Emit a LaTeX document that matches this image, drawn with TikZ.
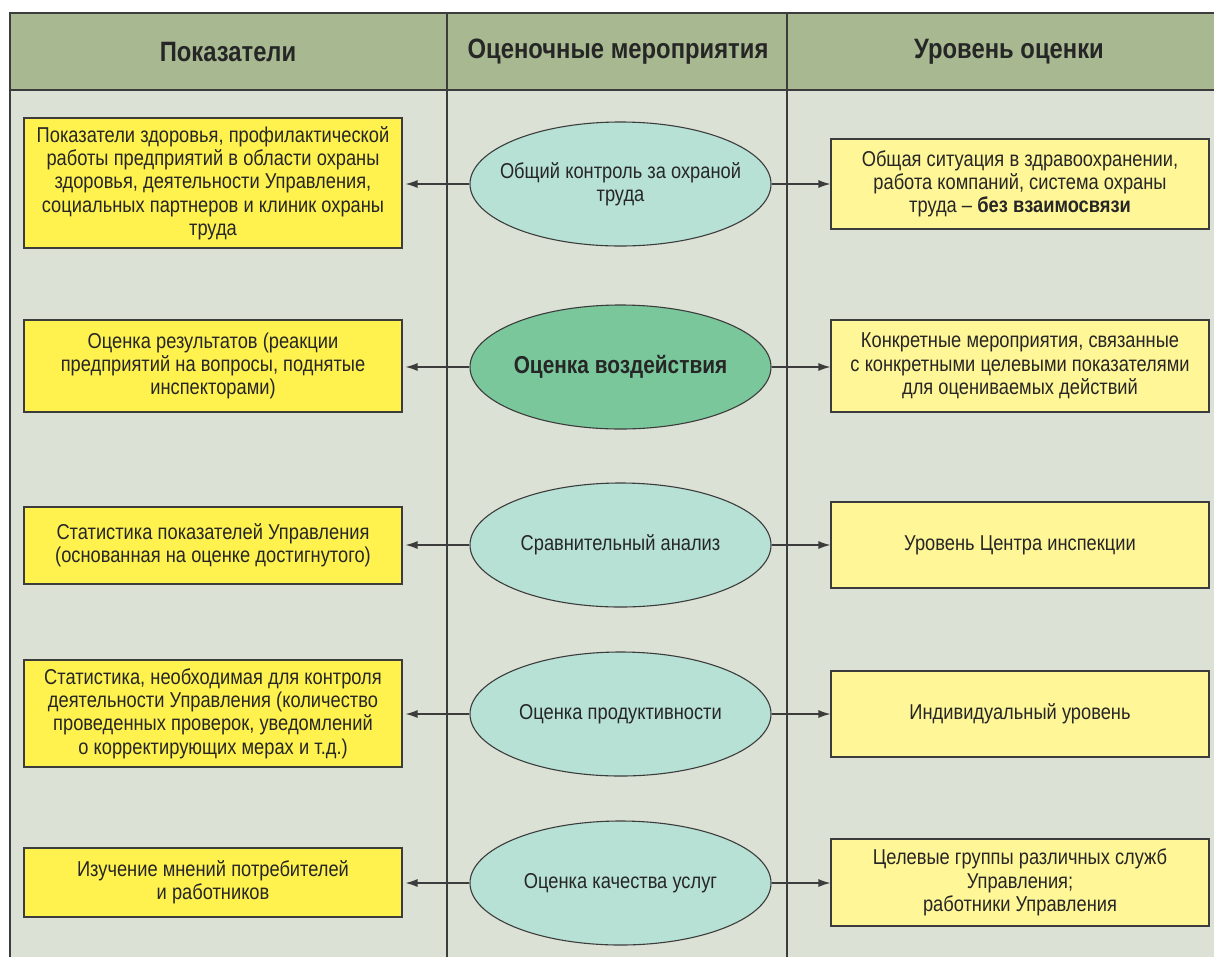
\documentclass[tikz,border=0pt]{standalone}
\usepackage{fontspec}
\setmainfont[FakeStretch=0.85]{Liberation Sans}
\usetikzlibrary{shapes.geometric,arrows.meta}
\definecolor{headgreen}{HTML}{A8B991}
\definecolor{paneback}{HTML}{DCE1D5}
\definecolor{leftyellow}{HTML}{FFF24E}
\definecolor{rightyellow}{HTML}{FFF697}
\definecolor{lightmint}{HTML}{B6E1D4}
\definecolor{darkmint}{HTML}{7AC79C}
\definecolor{edgegray}{HTML}{3C3C3C}
\tikzset{
	txt/.style={font=\fontsize{21.5}{23.3}\selectfont, text=black!85, execute at begin node={\spaceskip=0.24em\relax}},
	leftbox/.style={txt, draw=edgegray, fill=leftyellow, line width=1.1pt, minimum width=378pt, text width=374pt, align=center, inner sep=0pt},
	rightbox/.style={leftbox, fill=rightyellow},
	event/.style={txt, ellipse, draw=edgegray, fill=lightmint, line width=1.1pt, minimum width=301pt, minimum height=124pt, inner ysep=0pt, inner xsep=-25pt, align=center},
	headtxt/.style={font=\fontsize{28}{32}\selectfont\bfseries, text=black!85, execute at begin node={\spaceskip=0.24em\relax}},
	link/.style={-{Latex[length=12pt,width=8pt]}, line width=1.2pt, draw=edgegray}
}
\begin{document}
\begin{tikzpicture}[x=1pt,y=-1pt]
		\useasboundingbox (0,0) rectangle (1214,956);
		\fill[white] (0,0) rectangle (1214,956);
		\fill[paneback] (10,13) rectangle (1240,970);
		\fill[headgreen] (10,13) rectangle (1240,90);
		\draw[edgegray,line width=1.4pt] (10,970) -- (10,13) -- (1240,13);
		\draw[edgegray,line width=1.4pt] (10,90) -- (1240,90);
		\draw[edgegray,line width=1.4pt] (447,13) -- (447,970);
		\draw[edgegray,line width=1.4pt] (787,13) -- (787,970);
		\node[headtxt] (h1) at (228,52) {Показатели};
		\node[headtxt] (h2) at (618,52) {Оценочные мероприятия};
		\node[headtxt] (h3) at (1009,52) {Уровень оценки};

		\node[event] (e1) at (620.5,184) {Общий контроль за охраной\\труда};
		\node[event,fill=darkmint,font=\fontsize{24.5}{28}\selectfont\bfseries] (e2) at (620.5,367) {Оценка воздействия};
		\node[event] (e3) at (620.5,545) {Сравнительный анализ};
		\node[event] (e4) at (620.5,714) {Оценка продуктивности};
		\node[event] (e5) at (620.5,883) {Оценка качества услуг};

		\node[leftbox,minimum height=130pt] (l1) at (213,183) {Показатели здоровья, профилактической\\работы предприятий в области охраны\\здоровья, деятельности Управления,\\социальных партнеров и клиник охраны\\труда};
		\node[leftbox,minimum height=92pt] (l2) at (213,366) {Оценка результатов (реакции\\предприятий на вопросы, поднятые\\инспекторами)};
		\node[leftbox,minimum height=77pt] (l3) at (213,545.5) {Статистика показателей Управления\\(основанная на оценке достигнутого)};
		\node[leftbox,minimum height=107pt] (l4) at (213,713.5) {Статистика, необходимая для контроля\\деятельности Управления (количество\\проведенных проверок, уведомлений\\о корректирующих мерах и т.д.)};
		\node[leftbox,minimum height=69pt] (l5) at (213,882.5) {Изучение мнений потребителей\\и работников};

		\node[rightbox,minimum height=90pt] (r1) at (1020,184) {Общая ситуация в здравоохранении,\\работа компаний, система охраны\\труда -- \textbf{без взаимосвязи}};
		\node[rightbox,minimum height=92pt] (r2) at (1020,366) {Конкретные мероприятия, связанные\\с конкретными целевыми показателями\\для оцениваемых действий};
		\node[rightbox,minimum height=86pt] (r3) at (1020,545) {Уровень Центра инспекции};
		\node[rightbox,minimum height=86pt] (r4) at (1020,714) {Индивидуальный уровень};
		\node[rightbox,minimum height=87pt] (r5) at (1020,882.5) {Целевые группы различных служб\\Управления;\\работники Управления};

		\foreach \i in {1,...,5} {
			\draw[link,shorten >=3pt] (e\i.west) -- (e\i.west -| l\i.east);
			\draw[link] (e\i.east) -- (e\i.east -| r\i.west);
		}
		\end{tikzpicture}
\end{document}
